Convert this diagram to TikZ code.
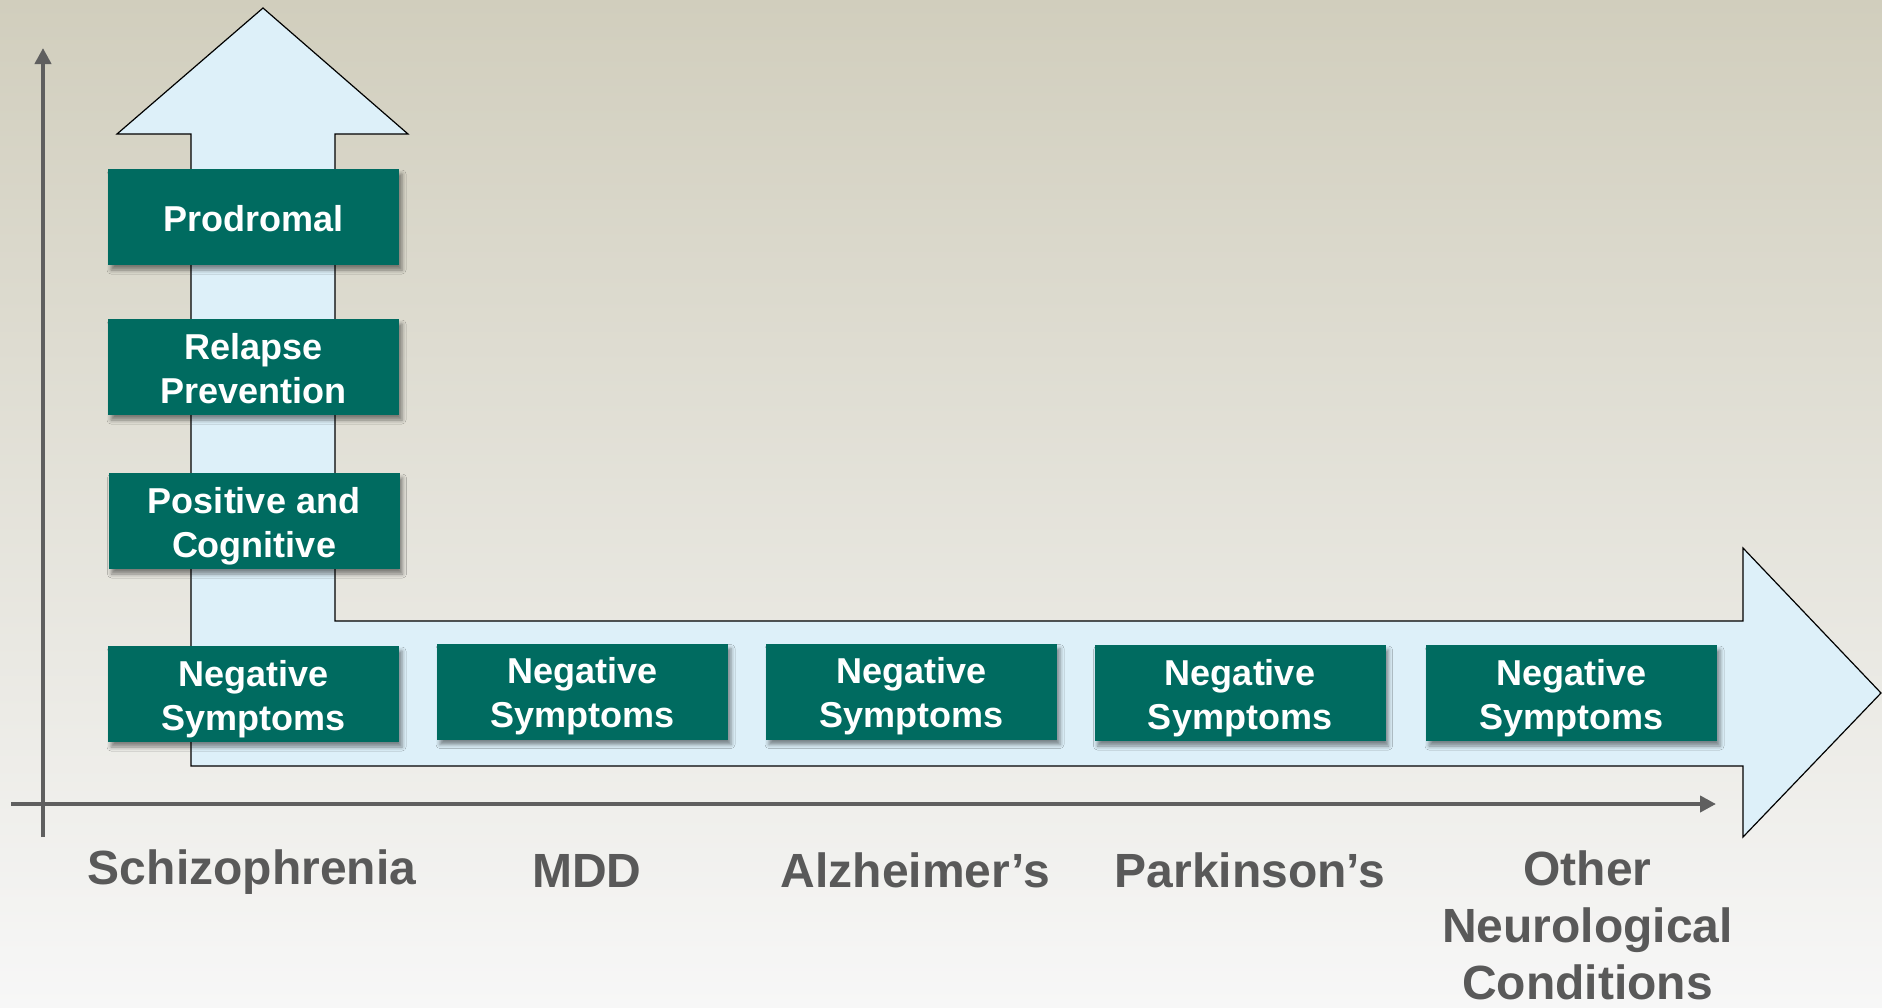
\documentclass[tikz,border=0pt]{standalone}
\usepackage{fontspec}
\setmainfont{Liberation Sans}
\usetikzlibrary{arrows.meta,shadows.blur}
\definecolor{bgtop}{HTML}{D1CEBD}
\definecolor{bgmid}{HTML}{ECEBE6}
\definecolor{bgbot}{HTML}{F7F7F7}
\definecolor{boxteal}{HTML}{006B60}
\definecolor{arrowblue}{HTML}{DDF0F9}
\definecolor{axisgray}{HTML}{5F5F5F}
\definecolor{labelgray}{HTML}{595959}
\newcommand{\mytopstrut}{\rule{0pt}{36pt}}
\newcommand{\mybotstrut}{\rule[-7.6pt]{0pt}{7.6pt}}
\begin{document}
\begin{tikzpicture}[x=1pt,y=-1pt,
  symbox/.style={fill=boxteal, text=white, minimum width=291pt, minimum height=96pt,
    inner sep=0pt, align=center, font=\fontsize{36}{44}\selectfont\bfseries,
    blur shadow={shadow xshift=3pt, shadow yshift=-5pt, shadow blur radius=4pt, shadow opacity=45}},
  condlabel/.style={text=labelgray, font=\fontsize{48}{57}\selectfont\bfseries, inner sep=0pt, align=center},
  axisline/.style={draw=axisgray, line width=4pt, -{Triangle[length=16pt,width=16pt]}},
  bigarrow/.style={fill=arrowblue, draw=black, line width=1.2pt, line join=miter}
]
\useasboundingbox (0,0) rectangle (1882,1007);
\shade[top color=bgtop, middle color=bgmid, bottom color=bgbot] (0,0) rectangle (1882,1007);

% axes
\coordinate (ybot) at (43,837);
\coordinate (ytop) at (43,48);
\coordinate (xleft) at (11,804);
\coordinate (xright) at (1716,804);
\draw[axisline] (ybot) -- (ytop);
\draw[axisline] (xleft) -- (xright);

% L-shaped big arrow
\draw[bigarrow] (191,766) -- (191,134) -- (117,134) -- (263,8) -- (408,134) -- (335,134)
  -- (335,621) -- (1743,621) -- (1743,548) -- (1881,693) -- (1743,837) -- (1743,766) -- cycle;

% boxes
\node[symbox] (prod) at (253.5,217) {\mytopstrut Prodromal\mybotstrut};
\node[symbox] (relapse) at (253.5,367) {\mytopstrut Relapse\\Prevention\mybotstrut};
\node[symbox] (poscog) at (254,521) {\mytopstrut Positive and\\Cognitive\mybotstrut};
\node[symbox] (negschiz) at (253.5,694) {\mytopstrut Negative\\Symptoms\mybotstrut};
\node[symbox] (negmdd) at (582.5,691.5) {\mytopstrut Negative\\Symptoms\mybotstrut};
\node[symbox] (negalz) at (911.5,691.5) {\mytopstrut Negative\\Symptoms\mybotstrut};
\node[symbox] (negpark) at (1240,693) {\mytopstrut Negative\\Symptoms\mybotstrut};
\node[symbox] (negother) at (1571.5,693) {\mytopstrut Negative\\Symptoms\mybotstrut};

% labels
\node[condlabel, anchor=base] (lschiz) at (252,884) {Schizophrenia};
\node[condlabel, anchor=base] (lmdd) at (587,887) {MDD};
\node[condlabel, anchor=base] (lalz) at (915.5,887) {Alzheimer’s};
\node[condlabel, anchor=base] (lpark) at (1250,887) {Parkinson’s};
\node[condlabel, anchor=north] (lother) at (1587.5,851) {Other\\Neurological\\Conditions};
\end{tikzpicture}
\end{document}
